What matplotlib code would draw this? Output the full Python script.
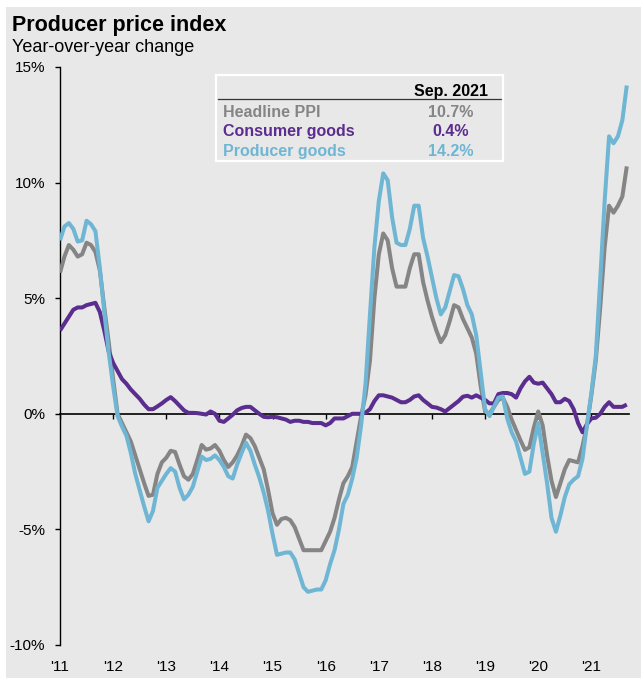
import numpy as np
import matplotlib
matplotlib.use('Agg')
import matplotlib.pyplot as plt
from matplotlib.patches import Rectangle
from matplotlib.lines import Line2D

plt.rcParams['font.family'] = ['Liberation Sans', 'DejaVu Sans']

# PPI year-over-year %, monthly Jan 2011 - Sep 2021
headline = [
    6.1, 6.8, 7.3, 7.1, 6.8, 6.9, 7.4, 7.3, 7.0, 6.2, 4.6, 3.1,            # 2011
    1.5, 0.0, -0.4, -0.8, -1.2, -1.8, -2.4, -3.0, -3.55, -3.5, -2.6, -2.1,  # 2012
    -1.9, -1.6, -1.65, -2.2, -2.7, -2.85, -2.6, -2.0, -1.35, -1.55, -1.5, -1.35,
    -1.6, -2.0, -2.3, -2.1, -1.8, -1.4, -0.9, -1.05, -1.4, -1.9, -2.4, -3.3,
    -4.3, -4.8, -4.55, -4.5, -4.6, -4.9, -5.4, -5.9, -5.9, -5.9, -5.9, -5.9,
    -5.5, -5.1, -4.5, -3.7, -3.0, -2.7, -2.3, -1.2, -0.1, 0.8, 2.3, 5.0,
    6.9, 7.8, 7.5, 6.3, 5.5, 5.5, 5.5, 6.3, 6.9, 6.9, 5.7, 4.9,
    4.2, 3.6, 3.1, 3.4, 4.0, 4.7, 4.6, 4.1, 3.7, 3.3, 2.6, 1.2,
    0.1, 0.0, 0.3, 0.6, 0.7, 0.3, -0.25, -0.7, -1.15, -1.56, -1.45, -0.6,
    0.1, -0.5, -1.8, -2.9, -3.6, -3.0, -2.4, -2.0, -2.05, -2.1, -1.4, -0.5,
    0.8, 2.3, 4.6, 7.2, 9.0, 8.7, 9.0, 9.4, 10.7,                           # 2021
]
consumer = [
    3.6, 3.9, 4.2, 4.5, 4.6, 4.6, 4.7, 4.75, 4.8, 4.4, 3.6, 2.7,
    2.2, 1.85, 1.5, 1.3, 1.05, 0.85, 0.65, 0.4, 0.2, 0.2, 0.32, 0.45,
    0.6, 0.72, 0.55, 0.35, 0.15, 0.04, 0.04, 0.03, 0.0, -0.03, 0.1, 0.0,
    -0.3, -0.35, -0.2, -0.04, 0.15, 0.25, 0.3, 0.3, 0.15, 0.0, -0.13, -0.15,
    -0.13, -0.15, -0.2, -0.25, -0.35, -0.3, -0.3, -0.35, -0.35, -0.4, -0.4, -0.4,
    -0.5, -0.4, -0.2, -0.2, -0.2, -0.1, 0.0, 0.0, 0.0, 0.05, 0.2, 0.55,
    0.8, 0.8, 0.75, 0.7, 0.6, 0.5, 0.5, 0.6, 0.75, 0.8, 0.6, 0.45,
    0.3, 0.27, 0.2, 0.1, 0.25, 0.4, 0.55, 0.74, 0.78, 0.7, 0.8, 0.7,
    0.6, 0.45, 0.45, 0.85, 0.9, 0.9, 0.85, 0.7, 1.1, 1.4, 1.6, 1.35,
    1.3, 1.35, 1.1, 0.85, 0.5, 0.5, 0.65, 0.55, 0.2, -0.4, -0.8, -0.45,
    -0.2, -0.17, 0.0, 0.3, 0.5, 0.3, 0.3, 0.3, 0.4,
]
producer = [
    7.5, 8.1, 8.25, 8.0, 7.45, 7.5, 8.35, 8.2, 7.9, 6.3, 4.4, 2.65,
    1.2, -0.1, -0.55, -0.95, -1.7, -2.6, -3.3, -4.0, -4.65, -4.2, -3.2, -2.9,
    -2.6, -2.35, -2.5, -3.2, -3.7, -3.5, -3.15, -2.5, -1.85, -2.0, -1.95, -1.8,
    -2.0, -2.3, -2.7, -2.8, -2.2, -1.7, -1.25, -1.6, -2.2, -2.75, -3.4, -4.2,
    -5.2, -6.1, -6.05, -6.0, -6.0, -6.3, -6.9, -7.5, -7.7, -7.65, -7.6, -7.6,
    -7.2, -6.5, -5.9, -5.0, -3.9, -3.5, -2.8, -1.9, -0.5, 1.3, 4.3, 7.2,
    9.2, 10.4, 10.1, 8.5, 7.4, 7.3, 7.3, 8.0, 9.0, 9.0, 7.6, 6.8,
    5.9, 5.0, 4.3, 4.6, 5.3, 6.0, 5.95, 5.4, 4.7, 4.3, 3.4, 1.8,
    0.2, -0.1, 0.3, 0.7, 0.75, -0.2, -0.8, -1.2, -1.9, -2.6, -2.5, -1.3,
    -0.4, -1.7, -3.0, -4.5, -5.1, -4.4, -3.6, -3.05, -2.85, -2.7, -1.95, -0.5,
    0.9, 2.5, 5.8, 9.2, 12.0, 11.7, 12.0, 12.7, 14.2,
]

series_names = ['Headline PPI', 'Consumer goods', 'Producer goods']
colors = ['#858585', '#5b2d8e', '#6fb6d4']
as_of = 'Sep. 2021'

years = list(range(2011, 2022))
year_labels = ["'11", "'12", "'13", "'14", "'15", "'16", "'17", "'18", "'19", "'20", "'21"]
y_ticks = [-10, -5, 0, 5, 10, 15]
y_labels = ['-10%', '-5%', '0%', '5%', '10%', '15%']

x = 2011 + np.arange(len(headline)) / 12.0
bg = '#e8e8e8'

fig = plt.figure(figsize=(6.41, 6.78), dpi=100, facecolor='white')
fig.patches.append(Rectangle((6 / 641, 0), 1, 1 - 7 / 678, transform=fig.transFigure,
                             facecolor=bg, edgecolor='none', zorder=-10))

ax = fig.add_axes([60 / 641, 33 / 678, 569 / 641, 578 / 678])
ax.set_facecolor('none')

for vals, c, z in zip([headline, consumer, producer], colors, [3, 4, 5]):
    ax.plot(x, vals, color=c, lw=2.9, solid_joinstyle='round',
            solid_capstyle='butt', zorder=z)

ax.set_xlim(2011, 2011 + 128.5 / 12)
ax.set_ylim(-10, 15)

for s in ['top', 'right']:
    ax.spines[s].set_visible(False)
ax.spines['bottom'].set_position(('data', 0))
ax.spines['bottom'].set_linewidth(1.2)
ax.spines['left'].set_linewidth(1.0)

ax.set_yticks(y_ticks, labels=y_labels)
ax.tick_params(axis='y', direction='out', length=3.6, width=1.0, pad=7, labelsize=11)
ax.set_xticks(years)
ax.tick_params(axis='x', direction='out', length=3.6, width=1.0, labelbottom=False)

# year labels sit under the plot, not on the zero line
sec = ax.secondary_xaxis('bottom')
sec.set_xticks(years, labels=year_labels)
sec.tick_params(length=0, pad=10.5, labelsize=11)
sec.spines['bottom'].set_visible(False)

fig.text(12.5 / 641, 1 - 31 / 678, 'Producer price index', fontsize=15.5,
         fontweight='bold', va='baseline')
fig.text(12.5 / 641, 1 - 52 / 678, 'Year-over-year change', fontsize=13, va='baseline')

# latest-reading table
fig.patches.append(Rectangle((216 / 641, 1 - 161 / 678), 287 / 641, 86 / 678,
                             transform=fig.transFigure, facecolor='none',
                             edgecolor='white', lw=1.6, zorder=6))
fig.lines.append(Line2D([218 / 641, 501 / 641], [1 - 99 / 678] * 2,
                        transform=fig.transFigure, color='#333333', lw=0.9))
fig.text(488 / 641, 1 - 96 / 678, as_of, fontsize=11.5, fontweight='bold',
         ha='right', va='baseline')
row_base = [117, 136, 156]
for name, vals, c, yb in zip(series_names, [headline, consumer, producer], colors, row_base):
    fig.text(223 / 641, 1 - yb / 678, name, fontsize=11.5, fontweight='bold',
             color=c, va='baseline')
    fig.text(451 / 641, 1 - yb / 678, f'{vals[-1]:.1f}%', fontsize=11.5,
             fontweight='bold', color=c, ha='center', va='baseline')

fig.savefig('out.png', dpi=100, facecolor=fig.get_facecolor())
